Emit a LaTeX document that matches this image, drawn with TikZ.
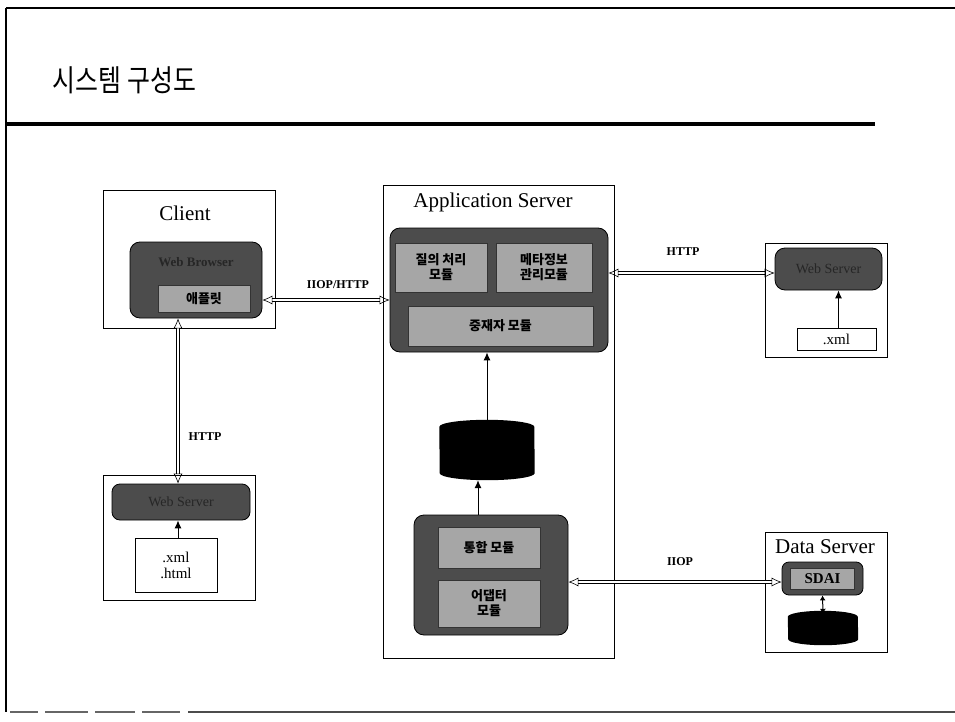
\documentclass[tikz,border=0pt]{standalone}
\usepackage{fontspec}
\setmainfont{Liberation Serif}
\newfontfamily\kr{Noto Sans CJK KR}
\usetikzlibrary{arrows.meta}
\tikzset{
  outerbox/.style={draw=black, line width=0.9pt, fill=white, minimum width=#1},
  darkbox/.style={draw=black, line width=0.8pt, fill=black!70, rounded corners=10pt},
  lightbox/.style={draw=black!80, line width=0.6pt, fill=black!35, font=\kr\fontsize{13}{15}\selectfont\bfseries, align=center, inner sep=0pt},
  filebox/.style={draw=black, line width=0.8pt, fill=white, font=\fontsize{15}{16}\selectfont, align=center, inner sep=0pt},
  dbl/.style={draw=black, line width=0.6pt, double=white, double distance=2.4pt, {Latex[open,length=10pt,width=9pt]}-{Latex[open,length=10pt,width=9pt]}},
  sgl/.style={draw=black, line width=1pt, -{Latex[length=8pt,width=7pt]}},
  lbl/.style={font=\fontsize{12}{14}\selectfont\bfseries},
  ttl/.style={font=\fontsize{21}{24}\selectfont},
  dbarea/.style={inner sep=0pt, draw=none}
}
\newcommand{\dbshape}[2]{% node name, ellipse y radius
  \fill[black] ([yshift=-#2]#1.north west) arc[start angle=180, end angle=0, x radius=0.5*\pgfkeysvalueof{/tmp/w}, y radius=#2]
    -- ([yshift=#2]#1.south east) arc[start angle=0, end angle=-180, x radius=0.5*\pgfkeysvalueof{/tmp/w}, y radius=#2] -- cycle;}
\begin{document}
\begin{tikzpicture}[x=1pt,y=-1pt]
\useasboundingbox (0,0) rectangle (955,722);
% frame
\draw[line width=2.5pt] (6,8) -- (955,8);
\draw[line width=2.2pt] (6,8) -- (6,712);
\draw[line width=4.5pt] (5,124) -- (875,124);
\draw[line width=2pt, black!60] (10,712) -- (38,712) (45,712) -- (88,712) (95,712) -- (135,712) (142,712) -- (180,712);
\draw[line width=2pt, black!70] (188,712) -- (955,712);
\node[anchor=west, font=\kr\fontsize{30}{30}\selectfont, xscale=0.83] (title) at (50,80) {시스템 구성도};

% Client
\node[outerbox=172pt, minimum height=138pt] (client) at (189,259) {};
\node[ttl] (clientlbl) at (185,213) {Client};
\node[darkbox, minimum width=132pt, minimum height=76pt] (cdark) at (196,280) {};
\node[font=\fontsize{13}{14}\selectfont\bfseries, text=black!85] (browser) at (196,262) {Web Browser};
\node[lightbox, minimum width=92pt, minimum height=27pt] (applet) at (204,298.5) {애플릿};

% Application Server
\node[outerbox=231pt, minimum height=473pt] (app) at (498.5,421.5) {};
\node[ttl] (applbl) at (493,202) {Application Server};
\node[darkbox, minimum width=218pt, minimum height=124pt] (appdark) at (499,290) {};
\node[lightbox, minimum width=92pt, minimum height=49pt] (query) at (441,267.5) {질의 처리\\모듈};
\node[lightbox, minimum width=96pt, minimum height=49pt] (meta) at (544,267.5) {메타정보\\관리모듈};
\node[lightbox, minimum width=185pt, minimum height=40pt] (med) at (500.5,326) {중재자 모듈};
\node[dbarea, minimum width=95pt, minimum height=60pt] (cyl) at (487,450) {};
\fill[black] ([yshift=-7pt]cyl.north west) arc[start angle=180, end angle=0, x radius=47.5pt, y radius=7pt]
    -- ([yshift=7pt]cyl.south east) arc[start angle=0, end angle=-180, x radius=47.5pt, y radius=7pt] -- cycle;
\node[darkbox, minimum width=154pt, minimum height=120pt] (botdark) at (491,575) {};
\node[lightbox, minimum width=102pt, minimum height=41pt] (integ) at (489,547.5) {통합 모듈};
\node[lightbox, minimum width=102pt, minimum height=47pt] (adapt) at (489,603.5) {어댑터\\모듈};

% Web Server (right)
\node[outerbox=122pt, minimum height=114pt] (web) at (826,300) {};
\node[darkbox, minimum width=107pt, minimum height=42pt] (webdark) at (828.5,269) {};
\node[font=\fontsize{14}{14}\selectfont, text=black!85] (webtxt) at (828.5,269) {Web Server};
\node[filebox, minimum width=79pt, minimum height=22pt] (wxml) at (836.5,339) {.xml};

% Web Server (bottom left)
\node[outerbox=152pt, minimum height=125pt] (blweb) at (179,537.5) {};
\node[darkbox, minimum width=138pt, minimum height=36pt, rounded corners=8pt] (bldark) at (181,502) {};
\node[font=\fontsize{14}{14}\selectfont, text=black!85] (bltxt) at (181,502) {Web Server};
\node[filebox, minimum width=82pt, minimum height=54pt] (blfiles) at (176,565) {.xml\\.html};

% Data Server
\node[outerbox=122pt, minimum height=120pt] (data) at (826,592) {};
\node[ttl] (datalbl) at (825,547) {Data Server};
\node[darkbox, minimum width=81pt, minimum height=33pt, rounded corners=7pt] (sdai) at (822.5,578.5) {};
\node[lightbox, minimum width=64pt, minimum height=21pt, font=\fontsize{15}{16}\selectfont\bfseries] (sdaitxt) at (822.5,578.5) {SDAI};
\node[dbarea, minimum width=70pt, minimum height=34pt] (dcyl) at (823,628) {};
\fill[black] ([yshift=-6pt]dcyl.north west) arc[start angle=180, end angle=0, x radius=35pt, y radius=6pt]
    -- ([yshift=6pt]dcyl.south east) arc[start angle=0, end angle=-180, x radius=35pt, y radius=6pt] -- cycle;

% connectors
\draw[dbl] ([yshift=-20pt]cdark.east) -- ([yshift=-10pt]appdark.west);
\node[lbl] (l1) at (338,285) {IIOP/HTTP};
\draw[dbl] ([yshift=17pt]appdark.east) -- ([yshift=-4pt]webdark.west);
\node[lbl] (l2) at (683,252) {HTTP};
\draw[dbl] ([xshift=-18pt]cdark.south) -- ([xshift=-3pt]bldark.north);
\node[lbl] (l3) at (205,437) {HTTP};
\draw[dbl] ([yshift=-7pt]botdark.east) -- ([yshift=-3.5pt]sdai.west);
\node[lbl] (l4) at (680,562) {IIOP};
\draw[sgl] (cyl.north) -- (cyl.north |- appdark.south);
\draw[sgl] ([xshift=-13pt]botdark.north) -- ([xshift=-9pt]cyl.south);
\draw[sgl] ([xshift=2pt]wxml.north) -- ([xshift=10pt]webdark.south);
\draw[sgl] ([xshift=2pt]blfiles.north) -- ([xshift=-3pt]bldark.south);
\draw[line width=1pt, {Latex[length=5pt,width=6pt]}-{Latex[length=5pt,width=6pt]}] (sdai.south) -- ([yshift=-3pt]dcyl.north);
\end{tikzpicture}
\end{document}
